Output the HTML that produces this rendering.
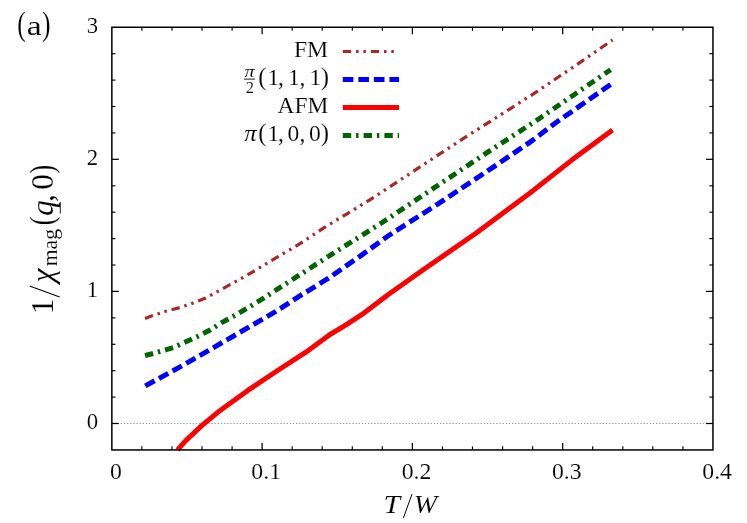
<!DOCTYPE html>
<html><head><meta charset="utf-8"><title>chart</title>
<style>
html,body{margin:0;padding:0;background:#fff;}
body{width:747px;height:523px;overflow:hidden;font-family:"Liberation Serif",serif;}
svg{display:block;will-change:transform;}
text{font-family:"Liberation Serif",serif;fill:#000;stroke:#fff;stroke-width:0.12px;}
.it{font-style:italic;}
</style></head><body>
<svg width="747" height="523" viewBox="0 0 747 523">
<rect x="0" y="0" width="747" height="523" fill="#fff"/>
<line x1="120.75" y1="423.5" x2="712.95" y2="423.5" stroke="#7a7a7a" stroke-width="0.8" stroke-dasharray="1.3 1.83"/>
<g fill="none">
<path d="M145.0,318.4 L152.7,315.6 L165.5,311.3 L179.7,307.6 L192.5,303.3 L205.7,298.0 L223.4,288.3 L242.3,277.9 L255.0,270.6 L275.9,257.9 L300.0,243.7 L324.1,227.7 L370.2,199.7 L417.0,168.9 L463.9,138.1 L487.5,123.2 L535.7,92.4 L581.2,61.6 L612.6,39.9" stroke="#a52a2a" stroke-width="3.2" stroke-dasharray="8.4 4.85 2.5 4.85 2.5 4.85"/>
<path d="M145.3,385.9 L183.5,365.0 L223.7,341.7 L250.5,326.2 L274.6,312.2 L298.7,296.6 L328.1,278.5 L360.9,255.6 L387.6,236.2 L438.4,203.7 L490.6,168.9 L530.0,142.1 L557.1,121.8 L611.3,84.0" stroke="#0000ff" stroke-width="5" stroke-dasharray="10.6 4.95"/>
<path d="M177.5,449.9 L186.0,440.3 L202.3,425.2 L218.4,411.8 L247.8,390.4 L279.9,369.0 L305.5,352.4 L330.0,334.5 L346.0,324.8 L362.0,314.4 L388.0,294.8 L422.9,270.0 L475.9,233.2 L530.0,193.0 L571.8,160.1 L612.5,129.9" stroke="#ff0000" stroke-width="5" stroke-linejoin="round"/>
<path d="M145.0,355.5 L153.5,353.4 L165.5,349.9 L173.6,347.5 L184.8,342.2 L198.0,336.2 L210.5,329.8 L221.7,322.6 L234.3,315.8 L246.6,308.5 L261.2,299.7 L296.0,277.2 L330.0,255.4 L382.2,222.5 L434.4,187.7 L486.6,152.9 L538.4,119.2 L610.6,69.7" stroke="#006400" stroke-width="5" stroke-dasharray="8.4 4.9 2.4 5.1"/>
</g>
<g fill="none">
<line x1="342.8" y1="51.5" x2="398.6" y2="51.5" stroke="#a52a2a" stroke-width="3.2" stroke-dasharray="8.4 4.85 2.5 4.85 2.5 4.85"/>
<line x1="342.8" y1="79.5" x2="399.1" y2="79.5" stroke="#0000ff" stroke-width="5" stroke-dasharray="10.6 4.95"/>
<line x1="342.8" y1="107.5" x2="399.1" y2="107.5" stroke="#ff0000" stroke-width="5"/>
<line x1="342.8" y1="135.5" x2="399.1" y2="135.5" stroke="#006400" stroke-width="5" stroke-dasharray="8.4 4.9 2.4 5.1"/>
</g>
<g stroke="#000" fill="none">
<line x1="141.9" y1="449.95" x2="141.9" y2="446.34999999999997" stroke-width="1.15"/><line x1="141.9" y1="27.25" x2="141.9" y2="30.85" stroke-width="1.15"/>
<line x1="172.0" y1="449.95" x2="172.0" y2="446.34999999999997" stroke-width="1.15"/><line x1="172.0" y1="27.25" x2="172.0" y2="30.85" stroke-width="1.15"/>
<line x1="202.0" y1="449.95" x2="202.0" y2="446.34999999999997" stroke-width="1.15"/><line x1="202.0" y1="27.25" x2="202.0" y2="30.85" stroke-width="1.15"/>
<line x1="232.1" y1="449.95" x2="232.1" y2="446.34999999999997" stroke-width="1.15"/><line x1="232.1" y1="27.25" x2="232.1" y2="30.85" stroke-width="1.15"/>
<line x1="262.1" y1="449.95" x2="262.1" y2="442.95" stroke-width="1.25"/><line x1="262.1" y1="27.25" x2="262.1" y2="34.25" stroke-width="1.25"/>
<line x1="292.2" y1="449.95" x2="292.2" y2="446.34999999999997" stroke-width="1.15"/><line x1="292.2" y1="27.25" x2="292.2" y2="30.85" stroke-width="1.15"/>
<line x1="322.2" y1="449.95" x2="322.2" y2="446.34999999999997" stroke-width="1.15"/><line x1="322.2" y1="27.25" x2="322.2" y2="30.85" stroke-width="1.15"/>
<line x1="352.3" y1="449.95" x2="352.3" y2="446.34999999999997" stroke-width="1.15"/><line x1="352.3" y1="27.25" x2="352.3" y2="30.85" stroke-width="1.15"/>
<line x1="382.3" y1="449.95" x2="382.3" y2="446.34999999999997" stroke-width="1.15"/><line x1="382.3" y1="27.25" x2="382.3" y2="30.85" stroke-width="1.15"/>
<line x1="412.4" y1="449.95" x2="412.4" y2="442.95" stroke-width="1.25"/><line x1="412.4" y1="27.25" x2="412.4" y2="34.25" stroke-width="1.25"/>
<line x1="442.5" y1="449.95" x2="442.5" y2="446.34999999999997" stroke-width="1.15"/><line x1="442.5" y1="27.25" x2="442.5" y2="30.85" stroke-width="1.15"/>
<line x1="472.5" y1="449.95" x2="472.5" y2="446.34999999999997" stroke-width="1.15"/><line x1="472.5" y1="27.25" x2="472.5" y2="30.85" stroke-width="1.15"/>
<line x1="502.6" y1="449.95" x2="502.6" y2="446.34999999999997" stroke-width="1.15"/><line x1="502.6" y1="27.25" x2="502.6" y2="30.85" stroke-width="1.15"/>
<line x1="532.6" y1="449.95" x2="532.6" y2="446.34999999999997" stroke-width="1.15"/><line x1="532.6" y1="27.25" x2="532.6" y2="30.85" stroke-width="1.15"/>
<line x1="562.7" y1="449.95" x2="562.7" y2="442.95" stroke-width="1.25"/><line x1="562.7" y1="27.25" x2="562.7" y2="34.25" stroke-width="1.25"/>
<line x1="592.7" y1="449.95" x2="592.7" y2="446.34999999999997" stroke-width="1.15"/><line x1="592.7" y1="27.25" x2="592.7" y2="30.85" stroke-width="1.15"/>
<line x1="622.8" y1="449.95" x2="622.8" y2="446.34999999999997" stroke-width="1.15"/><line x1="622.8" y1="27.25" x2="622.8" y2="30.85" stroke-width="1.15"/>
<line x1="652.8" y1="449.95" x2="652.8" y2="446.34999999999997" stroke-width="1.15"/><line x1="652.8" y1="27.25" x2="652.8" y2="30.85" stroke-width="1.15"/>
<line x1="682.9" y1="449.95" x2="682.9" y2="446.34999999999997" stroke-width="1.15"/><line x1="682.9" y1="27.25" x2="682.9" y2="30.85" stroke-width="1.15"/>
<line x1="111.85" y1="423.5" x2="118.85" y2="423.5" stroke-width="1.25"/><line x1="712.95" y1="423.5" x2="705.95" y2="423.5" stroke-width="1.25"/>
<line x1="111.85" y1="397.1" x2="115.44999999999999" y2="397.1" stroke-width="1.15"/><line x1="712.95" y1="397.1" x2="709.35" y2="397.1" stroke-width="1.15"/>
<line x1="111.85" y1="370.7" x2="115.44999999999999" y2="370.7" stroke-width="1.15"/><line x1="712.95" y1="370.7" x2="709.35" y2="370.7" stroke-width="1.15"/>
<line x1="111.85" y1="344.3" x2="115.44999999999999" y2="344.3" stroke-width="1.15"/><line x1="712.95" y1="344.3" x2="709.35" y2="344.3" stroke-width="1.15"/>
<line x1="111.85" y1="317.9" x2="115.44999999999999" y2="317.9" stroke-width="1.15"/><line x1="712.95" y1="317.9" x2="709.35" y2="317.9" stroke-width="1.15"/>
<line x1="111.85" y1="291.4" x2="118.85" y2="291.4" stroke-width="1.25"/><line x1="712.95" y1="291.4" x2="705.95" y2="291.4" stroke-width="1.25"/>
<line x1="111.85" y1="265.0" x2="115.44999999999999" y2="265.0" stroke-width="1.15"/><line x1="712.95" y1="265.0" x2="709.35" y2="265.0" stroke-width="1.15"/>
<line x1="111.85" y1="238.6" x2="115.44999999999999" y2="238.6" stroke-width="1.15"/><line x1="712.95" y1="238.6" x2="709.35" y2="238.6" stroke-width="1.15"/>
<line x1="111.85" y1="212.2" x2="115.44999999999999" y2="212.2" stroke-width="1.15"/><line x1="712.95" y1="212.2" x2="709.35" y2="212.2" stroke-width="1.15"/>
<line x1="111.85" y1="185.8" x2="115.44999999999999" y2="185.8" stroke-width="1.15"/><line x1="712.95" y1="185.8" x2="709.35" y2="185.8" stroke-width="1.15"/>
<line x1="111.85" y1="159.3" x2="118.85" y2="159.3" stroke-width="1.25"/><line x1="712.95" y1="159.3" x2="705.95" y2="159.3" stroke-width="1.25"/>
<line x1="111.85" y1="132.9" x2="115.44999999999999" y2="132.9" stroke-width="1.15"/><line x1="712.95" y1="132.9" x2="709.35" y2="132.9" stroke-width="1.15"/>
<line x1="111.85" y1="106.5" x2="115.44999999999999" y2="106.5" stroke-width="1.15"/><line x1="712.95" y1="106.5" x2="709.35" y2="106.5" stroke-width="1.15"/>
<line x1="111.85" y1="80.1" x2="115.44999999999999" y2="80.1" stroke-width="1.15"/><line x1="712.95" y1="80.1" x2="709.35" y2="80.1" stroke-width="1.15"/>
<line x1="111.85" y1="53.7" x2="115.44999999999999" y2="53.7" stroke-width="1.15"/><line x1="712.95" y1="53.7" x2="709.35" y2="53.7" stroke-width="1.15"/>
<rect x="111.85" y="27.25" width="601.1" height="422.7" stroke-width="1.5"/>
</g>
<g opacity="0.999">
<text transform="translate(98.1,429.2) scale(0.95,1)" font-size="24" text-anchor="end">0</text>
<text transform="translate(98.1,297.1) scale(0.95,1)" font-size="24" text-anchor="end">1</text>
<text transform="translate(98.1,165.0) scale(0.95,1)" font-size="24" text-anchor="end">2</text>
<text transform="translate(98.1,33.0) scale(0.95,1)" font-size="24" text-anchor="end">3</text>
<text transform="translate(115.9,478.6) scale(0.99,1)" font-size="24" text-anchor="middle">0</text>
<text transform="translate(266.2,478.6) scale(0.99,1)" font-size="24" text-anchor="middle">0.1</text>
<text transform="translate(416.5,478.6) scale(0.99,1)" font-size="24" text-anchor="middle">0.2</text>
<text transform="translate(566.8,478.6) scale(0.99,1)" font-size="24" text-anchor="middle">0.3</text>
<text transform="translate(717.1,478.6) scale(0.99,1)" font-size="24" text-anchor="middle">0.4</text>
<text x="21.4" y="34.5" font-size="34" text-anchor="middle" textLength="8.5" lengthAdjust="spacingAndGlyphs">(</text>
<text x="34.3" y="34.6" font-size="28" text-anchor="middle" textLength="15" lengthAdjust="spacingAndGlyphs">a</text>
<text x="46.2" y="34.5" font-size="34" text-anchor="middle" textLength="8.5" lengthAdjust="spacingAndGlyphs">)</text>
<text x="383.6" y="512.7" font-size="24.8" class="it" textLength="16.6" lengthAdjust="spacingAndGlyphs">T</text>
<line x1="403.3" y1="518.2" x2="412" y2="494.1" stroke="#000" stroke-width="1"/>
<text x="425.5" y="512.7" font-size="24.8" class="it" text-anchor="middle" textLength="23.4" lengthAdjust="spacingAndGlyphs">W</text>
<g transform="translate(53.2,0) rotate(-90)">
<text x="-306.40" y="0" font-size="31.6" text-anchor="middle">1</text>
<line x1="-297" y1="6.5" x2="-286.1" y2="-23.6" stroke="#000" stroke-width="1.1"/>
<text x="-275.65" y="0" font-size="31.6" text-anchor="middle" class="it">χ</text>
<text x="-266.3" y="3.7" font-size="20.8" textLength="37.4" lengthAdjust="spacingAndGlyphs">mag</text>
<text x="-220.95" y="-0.4" font-size="34.3" text-anchor="middle" textLength="8.6" lengthAdjust="spacingAndGlyphs">(</text>
<text x="-208.15" y="0" font-size="31.6" text-anchor="middle" class="it">q</text>
<line x1="-213.6" y1="7.1" x2="-202.2" y2="7.1" stroke="#000" stroke-width="0.9"/>
<text x="-198.05" y="0" font-size="31.6" text-anchor="middle">,</text>
<text x="-181.95" y="0" font-size="31.6" text-anchor="middle">0</text>
<text x="-169.15" y="-0.4" font-size="34.3" text-anchor="middle" textLength="8.6" lengthAdjust="spacingAndGlyphs">)</text>
</g>
<text x="293.9" y="56.6" font-size="23.5" textLength="34.3" lengthAdjust="spacingAndGlyphs">FM</text>
<text x="277.5" y="112.6" font-size="23.5" textLength="50.7" lengthAdjust="spacingAndGlyphs">AFM</text>
<text x="262.3" y="85.1" font-size="24.8" text-anchor="middle">(</text>
<text x="273.25" y="84.8" font-size="23.5" text-anchor="middle">1</text>
<text x="280.9" y="84.8" font-size="23.5" text-anchor="middle">,</text>
<text x="293.9" y="84.8" font-size="23.5" text-anchor="middle">1</text>
<text x="302.5" y="84.8" font-size="23.5" text-anchor="middle">,</text>
<text x="315.4" y="84.8" font-size="23.5" text-anchor="middle">1</text>
<text x="324.9" y="85.1" font-size="24.8" text-anchor="middle">)</text>
<text x="262.3" y="141.10000000000002" font-size="24.8" text-anchor="middle">(</text>
<text x="273.25" y="140.8" font-size="23.5" text-anchor="middle">1</text>
<text x="280.9" y="140.8" font-size="23.5" text-anchor="middle">,</text>
<text x="293.4" y="140.8" font-size="23.5" text-anchor="middle">0</text>
<text x="302.5" y="140.8" font-size="23.5" text-anchor="middle">,</text>
<text x="314.9" y="140.8" font-size="23.5" text-anchor="middle">0</text>
<text x="324.9" y="141.10000000000002" font-size="24.8" text-anchor="middle">)</text>
<text x="249.5" y="76.7" font-size="17.5" text-anchor="middle" class="it" textLength="10.2" lengthAdjust="spacingAndGlyphs">π</text>
<line x1="244" y1="79.1" x2="255.1" y2="79.1" stroke="#000" stroke-width="0.9"/>
<text x="249.8" y="92.6" font-size="16.5" text-anchor="middle">2</text>
<text x="250.5" y="140.8" font-size="23" text-anchor="middle" class="it" textLength="12.5" lengthAdjust="spacingAndGlyphs">π</text>
</g>
</svg>
</body></html>
